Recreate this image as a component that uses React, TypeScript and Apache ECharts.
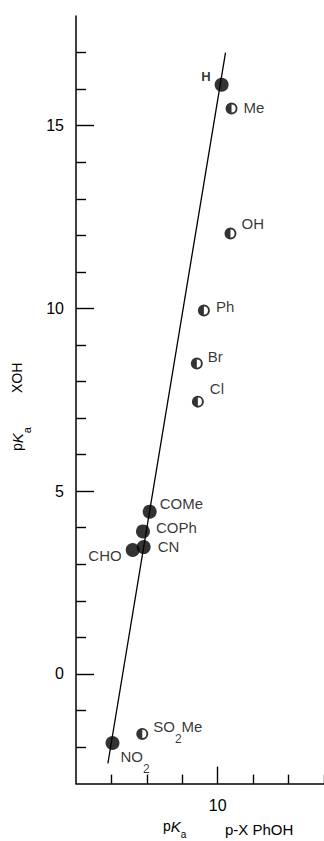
import React, { useEffect, useRef } from 'react';
import * as echarts from 'echarts';

// Filled circles (on the correlation line)
const filledNames = ['H', 'COMe', 'COPh', 'CN', 'CHO', 'NO2'];
const filledX = [10.11, 8.08, 7.89, 7.91, 7.6, 7.03];
const filledY = [16.12, 4.44, 3.9, 3.47, 3.39, -1.89];
// Half-filled circles (off the line)
const halfNames = ['Me', 'OH', 'Ph', 'Br', 'Cl', 'SO2Me'];
const halfX = [10.39, 10.36, 9.61, 9.41, 9.44, 7.87];
const halfY = [15.47, 12.05, 9.94, 8.49, 7.45, -1.64];
// Correlation line end points
const fitX = [6.9, 10.22];
const fitY = [-2.45, 17.0];
// Ticks
const xMinorTicks = [7, 8, 9, 11, 12, 13];
const xMajorTicks = [10];
const yMinorTicks = [-2, -1, 1, 2, 3, 4, 6, 7, 8, 9, 11, 12, 13, 14, 16, 17];
const yMajorTicks = [0, 5, 10, 15];

const FONT = '"Liberation Sans", Arial, Helvetica, sans-serif';

const labelLayout: Record<string, { pos: 'left' | 'right'; dist: number; dy: number }> = {
  H: { pos: 'left', dist: 4, dy: -8 },
  COMe: { pos: 'right', dist: 3, dy: -8 },
  COPh: { pos: 'right', dist: 6, dy: -3 },
  CN: { pos: 'right', dist: 7, dy: 0 },
  CHO: { pos: 'left', dist: 4, dy: 6 },
  NO2: { pos: 'right', dist: 1, dy: 19 },
  Me: { pos: 'right', dist: 6, dy: 0 },
  OH: { pos: 'right', dist: 5, dy: -9 },
  Ph: { pos: 'right', dist: 6, dy: -4 },
  Br: { pos: 'right', dist: 5, dy: -7 },
  Cl: { pos: 'right', dist: 6, dy: -13 },
  SO2Me: { pos: 'right', dist: 5, dy: -2 },
};

const labelText = (n: string) => {
  if (n === 'NO2') return '{t|NO}{s|2}';
  if (n === 'SO2Me') return '{t|SO}{s|2}{t|Me}';
  if (n === 'H') return '{b|H}';
  return '{t|' + n + '}';
};

const rich = {
  t: { fontSize: 15, lineHeight: 16, color: '#000', fontFamily: FONT, verticalAlign: 'top' },
  b: { fontSize: 13, lineHeight: 14, color: '#000', fontFamily: FONT, fontWeight: 'bold' },
  s: { fontSize: 12, lineHeight: 26, color: '#000', fontFamily: FONT, verticalAlign: 'bottom' },
};

const HALF_PATH =
  'path://M50 0 A50 50 0 1 1 50 100 A50 50 0 1 1 50 0 Z M50 84 A34 34 0 0 0 50 16 Z';

const makeData = (names: string[], xs: number[], ys: number[]) =>
  names.map((n, i) => {
    const l = labelLayout[n];
    return {
      name: n,
      value: [xs[i], ys[i]],
      label: {
        show: true,
        position: l.pos,
        distance: l.dist,
        offset: [0, l.dy],
        formatter: labelText(n),
        rich,
      },
    };
  });

export default function App() {
  const ref = useRef<HTMLDivElement>(null);
  useEffect(() => {
    if (!ref.current) return;
    const chart = echarts.init(ref.current, null, { renderer: 'svg' });
    const lineStyle = { color: '#000', width: 1.4 };
    const option: any = {
      animation: false,
      backgroundColor: '#fff',
      textStyle: { fontFamily: FONT, color: '#000' },
      grid: { left: 76, top: 16, width: 250.25, height: 767.6, containLabel: false },
      xAxis: [
        {
          type: 'value', min: 6, max: 13, position: 'bottom',
          axisLine: { show: true, onZero: false, lineStyle: { color: '#000', width: 1.5 } },
          axisTick: { show: true, inside: true, length: 9, customValues: xMinorTicks, lineStyle },
          axisLabel: { show: false },
          splitLine: { show: false },
        },
        {
          type: 'value', min: 6, max: 13, position: 'bottom',
          axisLine: { show: false, onZero: false },
          axisTick: { show: true, inside: true, length: 17, customValues: xMajorTicks, lineStyle },
          axisLabel: { show: true, customValues: xMajorTicks, margin: 14, fontSize: 16, color: '#000', fontFamily: FONT },
          splitLine: { show: false },
        },
      ],
      yAxis: [
        {
          type: 'value', min: -3, max: 18, position: 'left',
          axisLine: { show: true, onZero: false, lineStyle: { color: '#000', width: 1.5 } },
          axisTick: { show: true, inside: true, length: 10, customValues: yMinorTicks, lineStyle },
          axisLabel: { show: false },
          splitLine: { show: false },
        },
        {
          type: 'value', min: -3, max: 18, position: 'left',
          axisLine: { show: false, onZero: false },
          axisTick: { show: true, inside: true, length: 18, customValues: yMajorTicks, lineStyle },
          axisLabel: { show: true, customValues: yMajorTicks, margin: 12, fontSize: 16, color: '#000', fontFamily: FONT },
          splitLine: { show: false },
          name: '{p|p}{k|K}{a|a}{g|}{t|XOH}{e|}',
          nameLocation: 'middle',
          nameRotate: 90,
          nameGap: 44,
          nameTextStyle: {
            rich: {
              p: { fontSize: 14, lineHeight: 14, fontFamily: FONT, color: '#000', verticalAlign: 'top' },
              k: { fontSize: 15, lineHeight: 14, fontFamily: FONT, color: '#000', fontStyle: 'italic', verticalAlign: 'top' },
              a: { fontSize: 11, lineHeight: 22, fontFamily: FONT, color: '#000', verticalAlign: 'bottom' },
              g: { width: 34 },
              t: { fontSize: 14, lineHeight: 14, fontFamily: FONT, color: '#000', verticalAlign: 'top' },
              e: { width: 14 },
            },
          },
        },
      ],
      graphic: [
        {
          type: 'text', left: 163, top: 819,
          style: {
            text: '{p|p}{k|K}{a|a}',
            rich: {
              p: { fontSize: 14, lineHeight: 14, fontFamily: FONT, fill: '#000', verticalAlign: 'top' },
              k: { fontSize: 15, lineHeight: 14, fontFamily: FONT, fill: '#000', fontStyle: 'italic', verticalAlign: 'top' },
              a: { fontSize: 10, lineHeight: 20, fontFamily: FONT, fill: '#000', verticalAlign: 'bottom' },
            },
          },
        },
        {
          type: 'text', left: 225, top: 822,
          style: { text: 'p-X PhOH', fontSize: 15, fontFamily: FONT, fill: '#000' },
        },
      ],
      series: [
        {
          type: 'line',
          xAxisIndex: 0, yAxisIndex: 0,
          data: fitX.map((x, i) => [x, fitY[i]]),
          showSymbol: false,
          symbol: 'none',
          lineStyle: { color: '#000', width: 1.3 },
          z: 1,
          silent: true,
        },
        {
          type: 'scatter',
          xAxisIndex: 0, yAxisIndex: 0,
          symbol: 'circle',
          symbolSize: 14,
          itemStyle: { color: '#000' },
          data: makeData(filledNames, filledX, filledY),
          z: 3,
        },
        {
          type: 'scatter',
          xAxisIndex: 0, yAxisIndex: 0,
          symbol: HALF_PATH,
          symbolSize: 12,
          itemStyle: { color: '#000' },
          data: makeData(halfNames, halfX, halfY),
          z: 3,
        },
      ],
    };
    chart.setOption(option);
    return () => chart.dispose();
  }, []);
  return (
    <div
      ref={ref}
      style={{ position: 'absolute', left: 0, top: 0, width: 324, height: 841, background: '#fff' }}
    />
  );
}
